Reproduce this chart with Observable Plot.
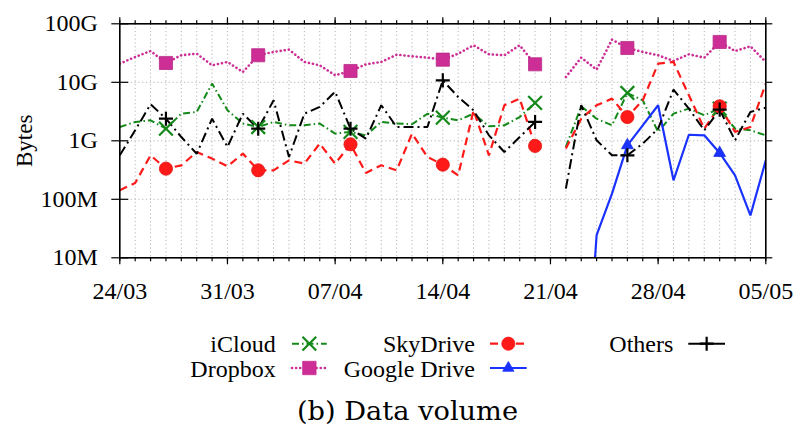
<!DOCTYPE html>
<html><head><meta charset="utf-8">
<script src="https://cdn.jsdelivr.net/npm/d3@7"></script>
<script src="https://cdn.jsdelivr.net/npm/@observablehq/plot@0.6"></script>
<style>
body{margin:0;background:#fff;width:800px;height:431px;overflow:hidden;font-family:"Liberation Serif","Times New Roman",serif}
#chart svg,#legend svg{display:block}
</style></head><body><div id="chart"></div><div id="legend"></div>
<script>
// ---- data (GB per day, 24/03 .. 05/05; null = no data) ----
const startDay = "2013-03-24", endDay = "2013-05-05";
const tickDates = ["2013-03-24","2013-03-31","2013-04-07","2013-04-14","2013-04-21","2013-04-28","2013-05-05"];
const tickLabels = ["24/03","31/03","07/04","14/04","21/04","28/04","05/05"];
const yTicks = [1e7,1e8,1e9,1e10,1e11];
const yTickLabels = ["10M","100M","1G","10G","100G"];
const markerDays = [3,9,15,21,27,33,39];

const icloud = [1.72,2.1,2.24,1.61,2.91,3.11,9.5,3.32,1.97,1.72,2.1,1.84,1.84,1.97,1.33,
  1.42,1.24,2.1,1.97,1.92,2.9,2.49,2.24,2.91,1.77,1.84,2.55,4.44,null,
  0.785,3.89,2.39,1.84,6.57,4.93,1.42,2.91,3.55,2.73,3.55,1.61,1.51,1.24];
const dropbox = [20.8,27.1,34.3,21.4,29,30.9,19.5,22.3,15.0,29,33,36.2,22.3,19.5,13.2,
  15.6,20.3,22.3,29.7,27.8,26.4,24.4,30.9,42.9,30.1,29,42.9,20.3,null,
  12.3,26.4,16.5,53.6,38.6,33,29,23.2,30.1,26.4,48.9,34.3,41.2,22.3];
const skydrive = [0.143,0.19,0.565,0.334,0.381,0.644,0.496,0.366,0.604,0.313,0.313,0.464,0.407,0.895,0.407,
  0.871,0.282,0.381,0.313,1.33,0.53,0.391,0.257,3.32,0.565,4.05,5.26,0.817,null,
  0.735,2.39,4.05,5.26,2.55,4.93,20.8,22.3,6.0,1.61,3.89,1.42,1.72,9.5];
const gdrive = [null,null,null,null,null,null,null,null,null,null,null,null,null,null,null,
  null,null,null,null,null,null,null,null,null,null,null,null,null,null,
  null,0.000004,0.0243,0.125,0.837,1.84,4.05,0.211,1.27,1.24,0.619,0.257,0.0532,0.464];
const others = [0.565,1.51,4.21,2.39,1.16,0.60,2.39,0.785,2.91,1.61,4.93,0.53,2.91,3.79,6.9,
  1.61,1.09,4.05,1.72,1.72,1.72,10.8,5.61,3.32,1.24,0.644,1.16,2.1,null,
  0.152,4.05,1.02,0.565,0.565,0.895,1.61,7.5,3.55,1.51,3.41,1.02,3.11,3.69];

// ---- styles ----
const series = [
  {name:"iCloud", values:icloud, color:"#14891a", dash:"7,3,1.5,3", width:2, symbol:"times", r:6.3, filled:false, cap:"butt"},
  {name:"Dropbox", values:dropbox, color:"#cc2e96", dash:"0.1,4", width:2.6, symbol:"square", r:7.4, filled:true, cap:"round"},
  {name:"SkyDrive", values:skydrive, color:"#ff1a1a", dash:"8,5", width:2.2, symbol:"circle", r:6.6, filled:true, cap:"butt"},
  {name:"Google Drive", values:gdrive, color:"#1a32ff", dash:null, width:2.2, symbol:"triangle", r:4.4, filled:true, cap:"butt"},
  {name:"Others", values:others, color:"#000000", dash:"10,4,2,4", width:2, symbol:"plus", r:4.6, filled:false, cap:"butt"}
];

const days = d3.utcDay.range(new Date(startDay), d3.utcDay.offset(new Date(endDay), 1));
const GB = 1e9;
const tables = series.map(s => days.map((d,i) => ({date:d, value: s.values[i]==null ? null : s.values[i]*GB, i})));

const grid = {stroke:"#b5b5b5", strokeOpacity:1, strokeDasharray:"1.2,2.6", strokeWidth:1};
const tickD = tickDates.map(d => new Date(d));
const noLab = () => "";

const marks = [
  Plot.gridX(days, grid),
  Plot.gridY([1e8,1e9,1e10], grid),
  Plot.axisX(days, {anchor:"bottom", tickSize:4, tickFormat:noLab, label:null, strokeWidth:1.2}),
  Plot.axisX(tickD, {anchor:"bottom", tickSize:7, tickFormat:noLab, label:null, strokeWidth:1.2}),
  Plot.axisX(days, {anchor:"top", tickSize:4, tickFormat:noLab, label:null, strokeWidth:1.2}),
  Plot.axisX(tickD, {anchor:"top", tickSize:7, tickFormat:noLab, label:null, strokeWidth:1.2}),
  Plot.axisX(tickD, {anchor:"bottom", tickSize:0, tickPadding:24, label:null, fontSize:24,
    tickFormat: d => tickLabels[tickD.findIndex(t => +t === +d)]}),
  Plot.axisY(yTicks, {anchor:"left", tickSize:8, tickPadding:14, label:null, fontSize:24, strokeWidth:1.2,
    tickFormat: d => yTickLabels[yTicks.indexOf(d)]}),
  Plot.axisY(yTicks, {anchor:"right", tickSize:6, tickFormat:noLab, label:null, strokeWidth:1.2}),
  Plot.tickY(yTicks, {y:d=>d, insetRight: 800-119.3-34.7-9, stroke:"black", strokeWidth:1.2}),
  Plot.text(["Bytes"], {frameAnchor:"left", dx:-95, rotate:-90, fontSize:23, textAnchor:"middle", lineAnchor:"middle"})
];
series.forEach((s, k) => {
  marks.push(Plot.line(tables[k], {x:"date", y:"value", stroke:s.color, strokeWidth:s.width,
    strokeDasharray:s.dash ?? undefined, strokeLinecap:s.cap, strokeLinejoin:"miter", clip:true}));
});
series.forEach((s, k) => {
  const pts = tables[k].filter(r => markerDays.includes(r.i) && r.value != null);
  marks.push(Plot.dot(pts, {x:"date", y:"value", symbol:s.symbol, r:s.r,
    fill: s.filled ? s.color : "none", stroke: s.filled ? d3.color(s.color).darker(0.3).formatHex() : s.color,
    strokeWidth: s.filled ? 0.8 : 2.2, clip:true}));
});
marks.push(Plot.frame({stroke:"black", strokeWidth:1.6}));

const svg = Plot.plot({
  width:800, height:310,
  marginLeft:119.3, marginRight:34.7, marginTop:23.3, marginBottom:52.7,
  x:{type:"utc", domain:[new Date(startDay), new Date(endDay)]},
  y:{type:"log", domain:[1e7,1e11]},
  style:{fontFamily:"'Liberation Serif', 'Times New Roman', serif", color:"black", background:"white", overflow:"visible"},
  marks
});
document.getElementById("chart").appendChild(svg);

// ---- legend + caption ----
const lg = d3.select("#legend").append("svg").attr("width",800).attr("height",121)
  .style("font-family","'Liberation Serif', 'Times New Roman', serif");
const legendPos = {"iCloud":[0,0],"Dropbox":[0,1],"SkyDrive":[1,0],"Google Drive":[1,1],"Others":[2,0]};
const colRight = [275.7,475,673.3], colX1 = [292,490,688.3], colX2 = [326.7,526.7,725];
const rowBase = [41.7,66.7], rowMid = [33.7,58];
const legSym = {times:[d3.symbolTimes,125], square:[d3.symbolSquare,180], circle:[d3.symbolCircle,137], triangle:[d3.symbolTriangle,55], plus:[d3.symbolPlus,66]};
series.forEach(s => {
  const [c, r] = legendPos[s.name];
  lg.append("text").attr("text-anchor","end").attr("font-size",24)
    .attr("x",colRight[c]).attr("y",rowBase[r]).text(s.name);
  lg.append("line").attr("x1",colX1[c]).attr("x2",colX2[c]).attr("y1",rowMid[r]).attr("y2",rowMid[r])
    .attr("stroke",s.color).attr("stroke-width",s.width).attr("stroke-dasharray", s.name==="Others" ? null : s.dash)
    .attr("stroke-linecap",s.cap);
  const [sym,size] = legSym[s.symbol];
  lg.append("path").attr("d", d3.symbol(sym,size)())
    .attr("transform",`translate(${(colX1[c]+colX2[c])/2},${rowMid[r]})`)
    .attr("fill", s.filled ? s.color : "none").attr("stroke", s.color).attr("stroke-width", s.filled ? 0.8 : 2.2);
});
lg.append("text").attr("text-anchor","middle").attr("font-size",25.5)
  .style("font-family","'DejaVu Serif', serif")
  .attr("x",407.5).attr("y",110.3).attr("textLength",221).attr("lengthAdjust","spacingAndGlyphs").text("(b) Data volume");
</script></body></html>
